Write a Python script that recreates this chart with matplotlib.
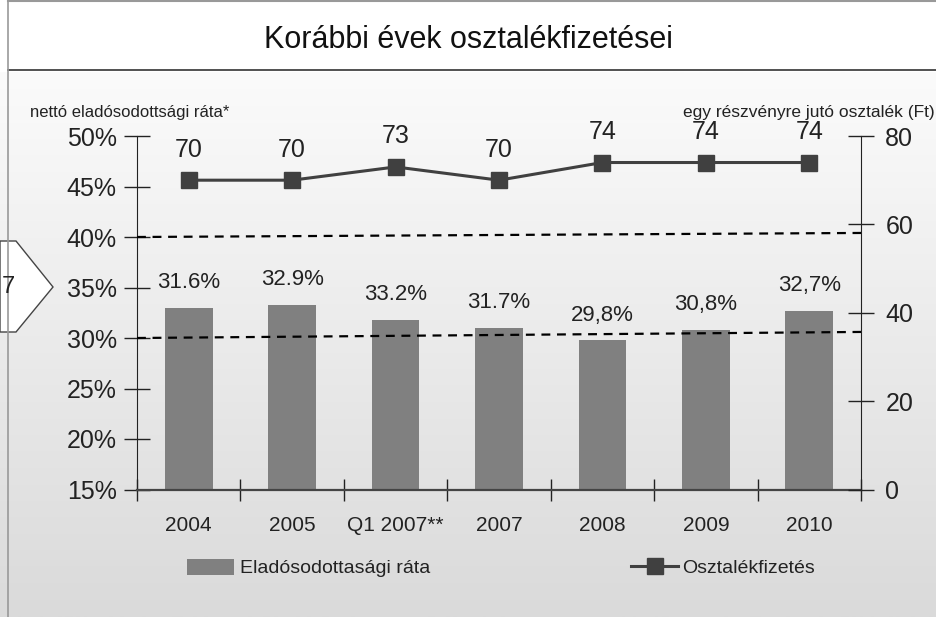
import numpy as np
import matplotlib.pyplot as plt
from matplotlib.colors import LinearSegmentedColormap
from matplotlib.lines import Line2D
from matplotlib.patches import Patch, Polygon, Rectangle

categories = ["2004", "2005", "Q1 2007**", "2007", "2008", "2009", "2010"]
debt_ratio = [33.0, 33.3, 31.8, 31.0, 29.8, 30.8, 32.7]
debt_labels = ["31.6%", "32.9%", "33.2%", "31.7%", "29,8%", "30,8%", "32,7%"]
dividend = [70, 70, 73, 70, 74, 74, 74]
band_upper = [40.0, 40.4]
band_lower = [30.0, 30.6]

W, H = 937, 617
plt.rcParams["font.family"] = ["Liberation Sans Narrow", "Liberation Sans", "DejaVu Sans"]
TXT = "#222222"


def fx(px):
    return px / W


def fy(py):
    return 1 - py / H


fig = plt.figure(figsize=(W / 100, H / 100), dpi=100)

# background: white title strip, soft gray gradient below
bg = fig.add_axes([0, 0, 1, 1], zorder=-10)
grad = np.linspace(0, 1, 256).reshape(-1, 1)
bg.imshow(grad, cmap=LinearSegmentedColormap.from_list("bg", ["#fbfbfb", "#dadada"]),
          aspect="auto", extent=[0, 1, 0, fy(72)])
bg.add_patch(Rectangle((fx(8), fy(70)), 1, fy(0) - fy(70), facecolor="white", edgecolor="none"))
bg.set_xlim(0, 1)
bg.set_ylim(0, 1)
bg.axis("off")
fig.add_artist(Line2D([fx(8), 1], [fy(1), fy(1)], color="#999999", lw=1.5))
fig.add_artist(Line2D([fx(8), 1], [fy(70), fy(70)], color="#333333", lw=1.2))
fig.add_artist(Line2D([fx(8), fx(8)], [0, fy(1)], color="#999999", lw=1.2))
fig.text(0.5, fy(40), "Korábbi évek osztalékfizetései", ha="center", va="center",
         fontsize=22, color="#111111")

# side arrow tab
tab = [(0, 241), (16, 241), (53, 287), (16, 332), (0, 332)]
fig.add_artist(Polygon([(fx(x), fy(y)) for x, y in tab], closed=True,
                       facecolor="white", edgecolor="#444444", lw=1.0,
                       transform=fig.transFigure))
fig.text(fx(2), fy(287), "7", ha="left", va="center", fontsize=17, color=TXT)

ax = fig.add_axes([fx(137), fy(489.5), fx(861) - fx(137), fy(136) - fy(489.5)])
ax.set_facecolor("none")
x = np.arange(len(categories))

ax.bar(x, np.array(debt_ratio) - 15, bottom=15, width=0.46, color="#808080", zorder=2)
for xi, val, lab in zip(x, debt_ratio, debt_labels):
    ax.annotate(lab, (xi, val), xytext=(0, 18), textcoords="offset points",
                ha="center", va="center", fontsize=16, color=TXT)

ax.plot([-0.5, 6.5], band_upper, color="black", lw=1.6, ls=(0, (4, 3)), zorder=3)
ax.plot([-0.5, 6.5], band_lower, color="black", lw=1.6, ls=(0, (4, 3)), zorder=3)

ax.set_xlim(-0.5, 6.5)
ax.set_ylim(15, 50)
ax.set_yticks(np.arange(15, 51, 5))
ax.set_yticklabels([f"{v}%" for v in range(15, 51, 5)])
ax.set_xticks(x)
ax.set_xticklabels(categories)
ax.set_xticks(np.arange(-0.5, 7, 1), minor=True)
ax.tick_params(axis="x", which="major", length=0, pad=19, labelsize=15, labelcolor=TXT)
ax.tick_params(axis="x", which="minor", direction="inout", length=16, width=1, color="#222222")
ax.tick_params(axis="y", direction="inout", length=19, width=1, pad=5, labelsize=18,
               labelcolor=TXT, color="#222222")
for side in ("top", "right"):
    ax.spines[side].set_visible(False)
ax.spines["left"].set_color("#222222")
ax.spines["bottom"].set_color("#444444")
ax.spines["bottom"].set_linewidth(1.6)

ax2 = ax.twinx()
ax2.plot(x, dividend, color="#404040", lw=2.2, marker="s", markersize=11.5,
         markerfacecolor="#404040", markeredgecolor="#404040", zorder=4)
for xi, val in zip(x, dividend):
    ax2.annotate(str(val), (xi, val), xytext=(0, 22), textcoords="offset points",
                 ha="center", va="center", fontsize=18, color=TXT)
ax2.set_ylim(0, 80)
ax2.set_yticks(np.arange(0, 81, 20))
ax2.tick_params(axis="y", direction="inout", length=19, width=1, pad=8, labelsize=18,
                labelcolor=TXT, color="#222222")
for side in ("top", "left", "bottom"):
    ax2.spines[side].set_visible(False)
ax2.spines["right"].set_color("#222222")

fig.text(fx(30), fy(112), "nettó eladósodottsági ráta*", ha="left", va="center",
         fontsize=12, color=TXT)
fig.text(fx(935), fy(112), "egy részvényre jutó osztalék (Ft)", ha="right", va="center",
         fontsize=12.5, color=TXT)

fig.legend(handles=[Patch(facecolor="#808080", edgecolor="none", label="Eladósodottasági ráta")],
           loc="center left", bbox_to_anchor=(fx(170), fy(568)), frameon=False,
           fontsize=14, handlelength=2.4, handleheight=0.9, handletextpad=0.3,
           labelcolor=TXT)
fig.legend(handles=[Line2D([], [], color="#404040", lw=2.2, marker="s", markersize=11.5,
                           label="Osztalékfizetés")],
           loc="center left", bbox_to_anchor=(fx(614), fy(568)), frameon=False,
           fontsize=14, handlelength=2.4, handletextpad=0.2, labelcolor=TXT)

fig.savefig("out.png", dpi=100)
